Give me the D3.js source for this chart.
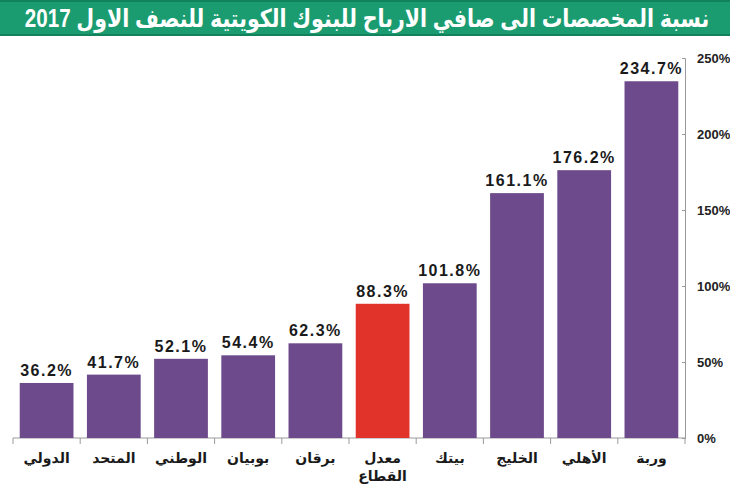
<!DOCTYPE html>
<html>
<head>
<meta charset="utf-8">
<script src="https://cdn.jsdelivr.net/npm/d3@7"></script>
<style>
	body { margin: 0; background: #fff; }
	svg { display: block; font-family: "Liberation Sans", Arial, "DejaVu Sans", sans-serif; }
</style>
</head>
<body>
<div id="chart"></div>
<script>
var title = "نسبة المخصصات الى صافي الارباح للبنوك الكويتية للنصف الاول 2017";
var categories = ["الدولي", "المتحد", "الوطني", "بوبيان", "برقان", "معدل القطاع", "بيتك", "الخليج", "الأهلي", "وربة"];
var values = [36.2, 41.7, 52.1, 54.4, 62.3, 88.3, 101.8, 161.1, 176.2, 234.7];
var highlight = ["معدل القطاع"];
var yTicks = [0, 50, 100, 150, 200, 250];

var width = 730, height = 500;
var margin = {top: 58, right: 45, bottom: 62, left: 13};
var innerW = width - margin.left - margin.right,
		innerH = height - margin.top - margin.bottom;

var svg = d3.select("#chart").append("svg")
		.attr("width", width)
		.attr("height", height);

// Title band
svg.append("rect").attr("x", 0).attr("y", 0).attr("width", width).attr("height", 36).attr("fill", "#12825d");
svg.append("rect").attr("x", 0).attr("y", 2).attr("width", width).attr("height", 32).attr("fill", "#1b9c70");
var titleText = svg.append("text")
		.attr("x", 0)
		.attr("y", 0)
		.attr("text-anchor", "middle")
		.attr("direction", "rtl")
		.attr("fill", "#fff")
		.style("font-size", "25px")
		.style("font-weight", "bold")
		.text(title);
// squeeze horizontally to fit the band like the reference (about 685px wide)
var tw = titleText.node().getComputedTextLength();
var sx = Math.min(1, 685 / tw);
titleText.attr("transform", "translate(" + (width / 2 + 2) + ",27) scale(" + sx + ",1)");

var g = svg.append("g").attr("transform", "translate(" + margin.left + "," + margin.top + ")");

var x = d3.scaleBand().domain(categories).range([0, innerW]).paddingInner(0.2).paddingOuter(0.1);
var y = d3.scaleLinear().domain([0, 250]).range([innerH, 0]);

// Bottom axis with ticks at band boundaries
var xAxis = g.append("g").attr("transform", "translate(0," + innerH + ")");
xAxis.append("line").attr("x1", 0).attr("x2", innerW).attr("stroke", "#9a9a9a");
var step = x.step();
var bounds = d3.range(categories.length + 1).map(function(i) { return x(categories[0]) - x.paddingOuter() * step + i * step; });
xAxis.selectAll(".xt").data(bounds).enter().append("line")
		.attr("x1", function(d) { return d; }).attr("x2", function(d) { return d; })
		.attr("y1", 0).attr("y2", 6)
		.attr("stroke", "#9a9a9a");

var xl = xAxis.selectAll(".xl").data(categories).enter().append("text")
		.attr("x", function(d) { return x(d) + x.bandwidth() / 2; })
		.attr("y", 25)
		.attr("text-anchor", "middle")
		.attr("direction", "rtl")
		.attr("fill", "#1a1a1a")
		.style("font-size", "14px")
		.style("font-weight", "bold");
xl.each(function(d) {
	var words = d.split(" ");
	var t = d3.select(this);
	words.forEach(function(w, i) {
		t.append("tspan").attr("x", x(d) + x.bandwidth() / 2).attr("dy", i ? 18 : 0).text(w);
	});
});

// Right axis
var yAxis = g.append("g").attr("transform", "translate(" + innerW + ",0)")
		.call(d3.axisRight(y).tickValues(yTicks).tickSize(-3).tickPadding(12).tickFormat(function(d) { return d + "%"; }));
yAxis.select(".domain").attr("stroke", "#9a9a9a");
yAxis.selectAll(".tick line").attr("stroke", "#9a9a9a");
yAxis.selectAll(".tick text")
		.attr("fill", "#222")
		.style("font-size", "13px")
		.style("font-weight", "bold")
		.style("font-family", "Liberation Sans, Arial, sans-serif");

// Bars
g.selectAll(".bar").data(categories).enter().append("rect")
		.attr("class", "bar")
		.attr("x", function(d) { return x(d); })
		.attr("y", function(d, i) { return y(values[i]); })
		.attr("width", x.bandwidth())
		.attr("height", function(d, i) { return innerH - y(values[i]); })
		.attr("fill", function(d) { return highlight.indexOf(d) >= 0 ? "#e2332b" : "#6c4a8b"; });

// Value labels
g.selectAll(".val").data(categories).enter().append("text")
		.attr("x", function(d) { return x(d) + x.bandwidth() / 2; })
		.attr("y", function(d, i) { return y(values[i]) - 7; })
		.attr("text-anchor", "middle")
		.attr("fill", "#1a1a1a")
		.style("font-size", "16px")
		.style("font-weight", "bold")
		.style("letter-spacing", "1.5px")
		.text(function(d, i) { return values[i].toFixed(1) + "%"; });
</script>
</body>
</html>
